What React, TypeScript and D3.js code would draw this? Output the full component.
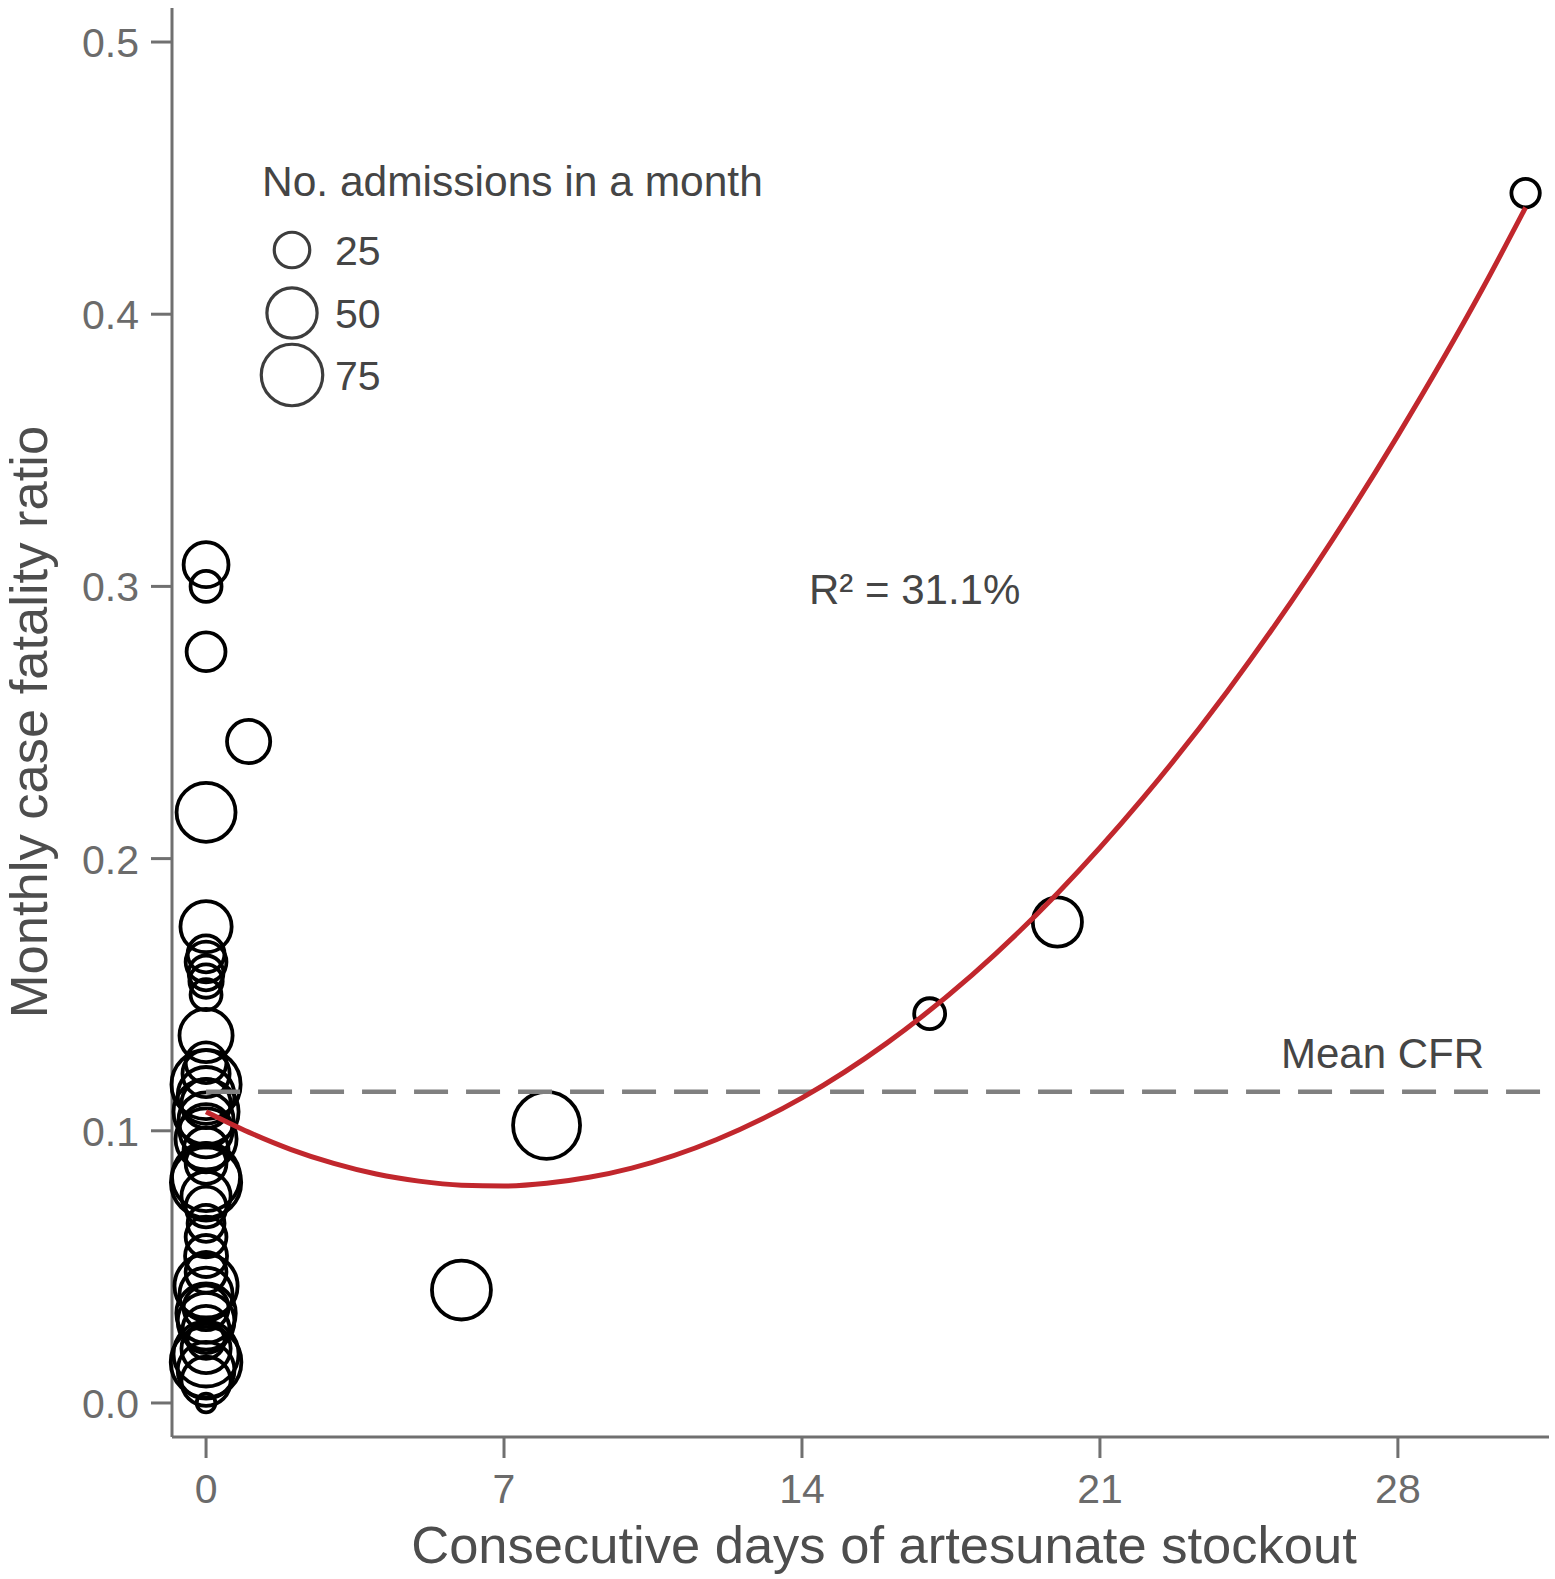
import React, { useEffect } from 'react';
import * as d3 from 'd3';

// Monthly records: consecutive stockout days, case fatality ratio, admissions
const stockoutDays = [
  0, 0, 0, 1, 0, 0, 0, 0, 0, 0, 0, 0, 0, 0, 0, 0, 0, 0, 0, 0, 0, 0, 0, 0, 0, 0, 0, 0,
  0, 0, 0, 0, 0, 0, 0, 0, 0, 0, 0, 0, 0, 0, 0, 0, 6, 8, 17, 20, 31,
];
const cfr = [
  0.308, 0.3, 0.276, 0.243, 0.217, 0.175, 0.165, 0.162, 0.158, 0.155, 0.15, 0.135, 0.125,
  0.121, 0.117, 0.113, 0.11, 0.107, 0.1, 0.097, 0.093, 0.088, 0.083, 0.081, 0.076, 0.072,
  0.066, 0.061, 0.048, 0.043, 0.04, 0.035, 0.03, 0.027, 0.023, 0.02, 0.018, 0.015, 0.012,
  0.008, 0.0, 0.104, 0.054, 0.033, 0.0415, 0.102, 0.143, 0.1767, 0.4445,
];
const admissions = [
  40, 19, 30, 37, 69, 52, 27, 33, 24, 22, 19, 56, 33, 44, 95, 64, 48, 84, 56, 74, 40, 33,
  92, 98, 48, 33, 27, 33, 33, 79, 56, 40, 64, 44, 27, 48, 84, 99, 64, 48, 7, 60, 35, 70, 69,
  89, 19, 48, 16,
];

// Fitted curve
const fitDays = [0, 1, 2, 3, 4, 5, 6, 7, 8, 9, 10, 12, 14, 16, 18, 20, 22, 24, 26, 28, 30, 31];
const fitCfr = [
  0.107, 0.0995, 0.0931, 0.088, 0.0841, 0.0815, 0.08, 0.0797, 0.0807, 0.0829, 0.0863, 0.0968,
  0.1121, 0.1323, 0.1573, 0.1872, 0.222, 0.2616, 0.3061, 0.3555, 0.4097, 0.4392,
];

const meanCfr = 0.1143;
const xTicks = [0, 7, 14, 21, 28];
const yTicks = [0, 0.1, 0.2, 0.3, 0.4, 0.5];
const legendBreaks = [25, 50, 75];

const W = 1555;
const H = 1579;
const FONT = '"Liberation Sans", Arial, Helvetica, sans-serif';

export default function App() {
  useEffect(() => {
    document.body.style.margin = '0';
  }, []);

  const x = d3.scaleLinear().domain([-0.8, 31.55]).range([172, 1549]);
  const y = d3.scaleLinear().domain([-0.0125, 0.5125]).range([1437, 8]);
  const r = d3.scaleSqrt().domain([0, 100]).range([0, 35.5]);

  const points = stockoutDays.map((d, i) => ({ d, c: cfr[i], n: admissions[i] }));
  const fitLine = d3
    .line<number>()
    .x((d) => x(d))
    .y((_, i) => y(fitCfr[i]))
    .curve(d3.curveMonotoneX)(fitDays);

  const axisColor = '#707070';
  const tickText = '#6b6b6b';
  const darkText = '#454545';
  const [x0, x1] = x.range();
  const [y0, y1] = y.range();

  return (
    <svg width={W} height={H} style={{ display: 'block', background: '#fff', fontFamily: FONT }}>
      {/* axes */}
      <line x1={x0} x2={x0} y1={y1} y2={y0} stroke={axisColor} strokeWidth={3} />
      <line x1={x0} x2={x1} y1={y0} y2={y0} stroke={axisColor} strokeWidth={3} />
      {yTicks.map((t) => (
        <g key={'y' + t}>
          <line x1={x0 - 21} x2={x0} y1={y(t)} y2={y(t)} stroke={axisColor} strokeWidth={3} />
          <text x={139} y={y(t) + 15} textAnchor="end" fontSize={41} fill={tickText}>
            {t.toFixed(1)}
          </text>
        </g>
      ))}
      {xTicks.map((t) => (
        <g key={'x' + t}>
          <line x1={x(t)} x2={x(t)} y1={y0} y2={y0 + 21} stroke={axisColor} strokeWidth={3} />
          <text x={x(t)} y={1503} textAnchor="middle" fontSize={41} fill={tickText}>
            {t}
          </text>
        </g>
      ))}

      {/* points */}
      {points.map((p, i) => (
        <circle
          key={i}
          cx={x(p.d)}
          cy={y(p.c)}
          r={r(p.n)}
          fill="none"
          stroke="#000"
          strokeWidth={3.8}
        />
      ))}

      {/* mean CFR */}
      <line
        x1={x(0)}
        x2={x1}
        y1={y(meanCfr)}
        y2={y(meanCfr)}
        stroke="#808080"
        strokeWidth={4.5}
        strokeDasharray="34 18"
      />
      <text x={1484} y={1068} textAnchor="end" fontSize={42} fill={darkText}>
        Mean CFR
      </text>

      {/* fitted curve */}
      <path d={fitLine ?? ''} fill="none" stroke="#c1272d" strokeWidth={5} />

      <text x={809} y={604} fontSize={42} fill={darkText}>
        R² = 31.1%
      </text>

      {/* legend */}
      <text x={262} y={196} fontSize={42.5} fill={darkText}>
        No. admissions in a month
      </text>
      {legendBreaks.map((b, i) => {
        const cy = [250, 313, 375][i];
        return (
          <g key={'l' + b}>
            <circle cx={292} cy={cy} r={r(b)} fill="none" stroke="#3d3d3d" strokeWidth={3.2} />
            <text x={335} y={cy + 15} fontSize={41} fill={darkText}>
              {b}
            </text>
          </g>
        );
      })}

      {/* axis titles */}
      <text x={884} y={1563} textAnchor="middle" fontSize={52.5} fill="#4d4d4d">
        Consecutive days of artesunate stockout
      </text>
      <text
        transform={`translate(47, ${722}) rotate(-90)`}
        textAnchor="middle"
        fontSize={52.5}
        fill="#4d4d4d"
      >
        Monthly case fatality ratio
      </text>
    </svg>
  );
}
